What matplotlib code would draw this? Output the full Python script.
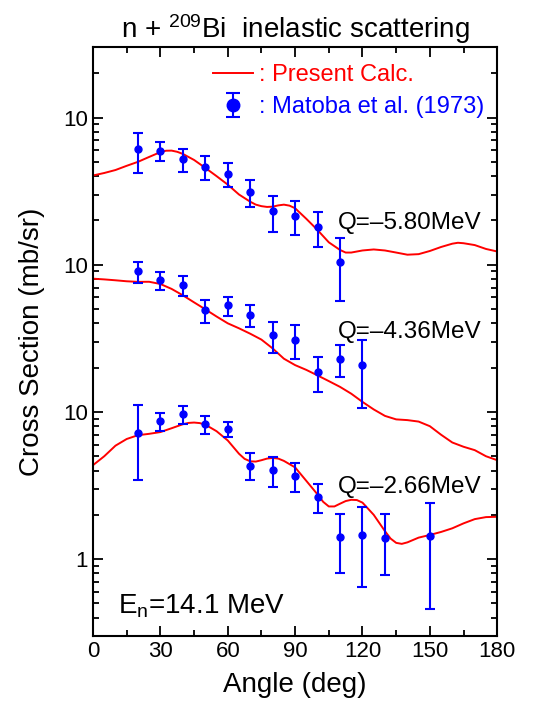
import numpy as np
import matplotlib
matplotlib.use("Agg")
import matplotlib.pyplot as plt
from matplotlib.ticker import FixedLocator, FixedFormatter, LogLocator, MultipleLocator, NullFormatter

plt.rcParams['font.family'] = ['Liberation Sans', 'DejaVu Sans']
plt.rcParams['mathtext.default'] = 'regular'

# ---- data (displayed values, before the offset factor) ----
q_labels = ["Q=\u20135.80MeV", "Q=\u20134.36MeV", "Q=\u20132.66MeV"]
offsets = [100, 10, 1]

# calculated curves
calc_angle_q580 = [0, 5, 10, 15, 20, 25, 30, 32.5, 35, 37.5, 40, 45, 50, 55, 60, 65, 70, 72.5,
                   75, 77.5, 80, 82.5, 85, 87.5, 90, 95, 100, 105, 110, 112.5, 115, 120, 125,
                   130, 135, 140, 145, 150, 155, 160, 162.5, 165, 170, 175, 180]
calc_q580 = [4.04, 4.2, 4.4, 4.7, 5.0, 5.4, 5.82, 5.95, 5.96, 5.85, 5.66, 5.15, 4.55, 4.0,
             3.5, 3.0, 2.68, 2.56, 2.5, 2.47, 2.48, 2.53, 2.56, 2.52, 2.42, 2.05, 1.72, 1.42,
             1.26, 1.21, 1.21, 1.25, 1.27, 1.25, 1.21, 1.17, 1.18, 1.24, 1.32, 1.39, 1.41,
             1.4, 1.36, 1.28, 1.23]

calc_angle_q436 = [0, 5, 10, 15, 20, 25, 30, 35, 40, 45, 50, 55, 60, 65, 70, 75, 80, 85, 90,
                   95, 100, 105, 110, 115, 120, 125, 130, 135, 140, 145, 150, 155, 160, 165,
                   170, 175, 180]
calc_q436 = [8.04, 7.95, 7.84, 7.72, 7.65, 7.66, 7.4, 6.85, 6.2, 5.55, 4.98, 4.45, 4.0,
             3.7, 3.4, 3.1, 2.7, 2.3, 2.08, 1.93, 1.77, 1.62, 1.48, 1.33, 1.17, 1.04, 0.94,
             0.89, 0.88, 0.86, 0.8, 0.7, 0.62, 0.58, 0.55, 0.5, 0.47]

calc_angle_q266 = [0, 5, 10, 15, 20, 25, 30, 35, 40, 42.5, 45, 47.5, 50, 55, 60, 65, 67.5, 70,
                   72.5, 75, 77.5, 80, 82.5, 85, 90, 95, 100, 102.5, 105, 107.5, 110, 112.5,
                   115, 117.5, 120, 125, 130, 132.5, 135, 137.5, 140, 145, 150, 155, 160, 165,
                   170, 175, 180]
calc_q266 = [4.35, 5.0, 5.9, 6.55, 6.95, 7.1, 7.3, 7.75, 8.25, 8.42, 8.47, 8.4, 8.2, 7.4,
             6.4, 5.2, 4.8, 4.62, 4.6, 4.7, 4.82, 4.87, 4.82, 4.65, 4.2, 3.4, 2.75, 2.45,
             2.28, 2.28, 2.38, 2.48, 2.53, 2.52, 2.42, 2.0, 1.55, 1.38, 1.29, 1.27, 1.3, 1.4,
             1.46, 1.53, 1.62, 1.75, 1.87, 1.93, 1.94]

# Matoba et al. (1973)
exp_angle_q580 = [20, 30, 40, 50, 60, 70, 80, 90, 100, 110]
exp_q580 = [6.10, 5.97, 5.21, 4.62, 4.15, 3.13, 2.30, 2.16, 1.81, 1.04]
exp_q580_hi = [7.91, 6.87, 6.13, 5.44, 4.90, 3.78, 2.94, 2.72, 2.27, 1.52]
exp_q580_lo = [4.23, 5.03, 4.26, 3.78, 3.40, 2.45, 1.66, 1.58, 1.33, 0.57]

exp_angle_q436 = [20, 30, 40, 50, 60, 70, 80, 90, 100, 110, 120]
exp_q436 = [9.01, 7.91, 7.31, 4.90, 5.30, 4.58, 3.33, 3.08, 1.87, 2.28, 2.07]
exp_q436_hi = [10.4, 8.92, 8.38, 5.73, 6.03, 5.33, 4.09, 3.87, 2.36, 2.83, 3.06]
exp_q436_lo = [7.51, 6.77, 6.12, 4.04, 4.49, 3.76, 2.53, 2.29, 1.37, 1.73, 1.06]

exp_angle_q266 = [20, 30, 40, 50, 60, 70, 80, 90, 100, 110, 120, 130, 150]
exp_q266 = [7.24, 8.69, 9.64, 8.25, 7.63, 4.31, 4.01, 3.69, 2.66, 1.42, 1.45, 1.39, 1.43]
exp_q266_hi = [11.1, 9.9, 10.98, 9.4, 8.51, 5.22, 4.96, 4.51, 3.22, 2.03, 2.27, 2.02, 2.40]
exp_q266_lo = [3.45, 7.39, 8.33, 7.13, 6.77, 3.45, 3.10, 2.87, 2.05, 0.81, 0.65, 0.78, 0.46]

calc_sets = [(calc_angle_q580, calc_q580), (calc_angle_q436, calc_q436),
             (calc_angle_q266, calc_q266)]
exp_sets = [
    (exp_angle_q580, exp_q580, exp_q580_lo, exp_q580_hi),
    (exp_angle_q436, exp_q436, exp_q436_lo, exp_q436_hi),
    (exp_angle_q266, exp_q266, exp_q266_lo, exp_q266_hi),
]
label_y = [1.93, 3.5, 3.1]   # where the Q labels sit (displayed units)

fig = plt.figure(figsize=(5.44, 7.06), dpi=100)
ax = fig.add_axes([0.171, 0.099, 0.743, 0.834])

for i in range(3):
    f = offsets[i]
    ca, cv = calc_sets[i]
    ax.plot(ca, np.array(cv) * f, color='red', lw=1.4, zorder=2)
    ang, val, lo, hi = exp_sets[i]
    val = np.array(val) * f
    lo = np.array(lo) * f
    hi = np.array(hi) * f
    ax.errorbar(ang, val, yerr=[val - lo, hi - val], fmt='o', color='blue', ms=5,
                elinewidth=1.5, capsize=3.5, capthick=1.5, zorder=3)
    ax.text(109, label_y[i] * f, q_labels[i], fontsize=17.5, va='center', ha='left')

# legend
line_h, = ax.plot([], [], color='red', lw=1.4)
err_h = ax.errorbar([np.nan], [np.nan], yerr=[[np.nan], [np.nan]], fmt='o', color='blue',
                    ms=9, elinewidth=1.5, capsize=5, capthick=1.5)
leg = ax.legend([line_h, err_h], [": Present Calc.", ": Matoba et al. (1973)"],
                loc='upper right', bbox_to_anchor=(1.02, 1.008), frameon=False,
                fontsize=17, labelcolor=['red', 'blue'], handlelength=1.7,
                handletextpad=0.25, labelspacing=0.45)

ax.text(0.062, 0.039, "E$_{n}$=14.1 MeV", transform=ax.transAxes, fontsize=20,
        va='baseline')

ax.set_yscale('log')
ax.set_xlim(0, 180)
ax.set_ylim(0.3, 3000)
ax.xaxis.set_major_locator(MultipleLocator(30))
ax.xaxis.set_minor_locator(MultipleLocator(15))
ax.yaxis.set_major_locator(FixedLocator([1, 10, 100, 1000]))
ax.yaxis.set_major_formatter(FixedFormatter(["1", "10", "10", "10"]))
ax.yaxis.set_minor_locator(LogLocator(base=10, subs=np.arange(2, 10)))
ax.yaxis.set_minor_formatter(NullFormatter())
ax.tick_params(which='both', direction='in', top=True, right=True, width=1.3, labelsize=16)
ax.tick_params(which='major', length=7)
ax.tick_params(which='minor', length=4)
for s in ax.spines.values():
    s.set_linewidth(1.5)

ax.set_xlabel("Angle (deg)", fontsize=20, labelpad=7)
ax.set_ylabel("Cross Section (mb/sr)", fontsize=20, labelpad=13)
ax.set_title("n + $^{209}$Bi  inelastic scattering", fontsize=20, pad=7)

fig.savefig("out.png", dpi=100)
